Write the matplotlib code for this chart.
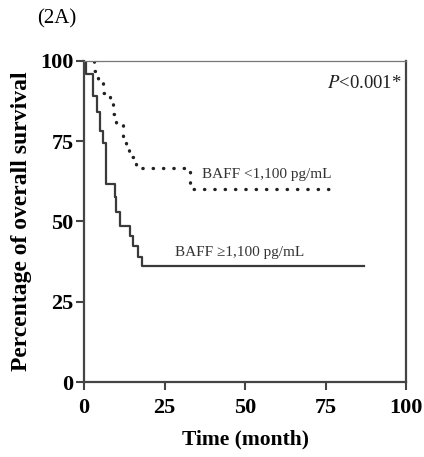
import matplotlib.pyplot as plt

plt.rcParams['font.family'] = ['Liberation Serif', 'DejaVu Serif']
plt.rcParams['mathtext.fontset'] = 'stix'

# Kaplan-Meier step curves (time in months, survival in %)
high_time = [0, 0.5, 2.9, 4.1, 5.0, 6.0, 6.8, 9.6, 10.1, 11.2, 14.3, 15.1, 16.9, 17.9, 87]
high_surv = [100, 96, 89, 84, 78, 74.5, 61.5, 57.5, 53, 48.5, 45.5, 42.5, 39, 36, 36]

low_time = [0, 3, 4.5, 6, 8, 9, 10, 12, 13, 14, 16, 33, 78]
low_surv = [100, 96.7, 93.3, 90, 86.7, 83.3, 80, 76.7, 73.3, 70, 66.7, 60, 60]

ticks = [0, 25, 50, 75, 100]

fig = plt.figure(figsize=(4.24, 4.57), dpi=100)
ax = fig.add_axes([0.198, 0.164, 0.760, 0.703])

ax.step(high_time, high_surv, where='post', color='#3a3a3a', lw=1.6)
ax.step(low_time, low_surv, where='post', color='#222222', lw=2.4,
        linestyle=(0, (0.1, 3.0)), dash_capstyle='round')

ax.set_xlim(0, 100)
ax.set_ylim(0, 100)
ax.set_xticks(ticks)
ax.set_yticks(ticks)
ax.tick_params(direction='out', length=5.5, width=1.5, color='#444444',
               labelsize=16, pad=2)
ax.tick_params(axis='x', pad=6)
for lab in ax.get_xticklabels() + ax.get_yticklabels():
    lab.set_fontweight('bold')

for side in ['left', 'bottom', 'right']:
    ax.spines[side].set_linewidth(1.6)
    ax.spines[side].set_color('#444444')
ax.spines['top'].set_linewidth(0.9)
ax.spines['top'].set_color('#777777')

ax.set_xlabel('Time (month)', fontsize=15.5, fontweight='bold', labelpad=8)
ax.set_ylabel('Percentage of overall survival', fontsize=17, fontweight='bold', labelpad=6)

ax.text(98.5, 93, r'$\it{P}$<0.001*', ha='right', va='center', fontsize=13.5, color='#222222')
ax.text(36.5, 64.5, 'BAFF <1,100 pg/mL', ha='left', va='center', fontsize=11, color='#333333')
ax.text(28.3, 40.2, 'BAFF \u22651,100 pg/mL', ha='left', va='center', fontsize=11, color='#333333')

fig.text(0.087, 0.958, '(2A)', ha='left', va='center', fontsize=15)

plt.savefig('out.png', dpi=100)
